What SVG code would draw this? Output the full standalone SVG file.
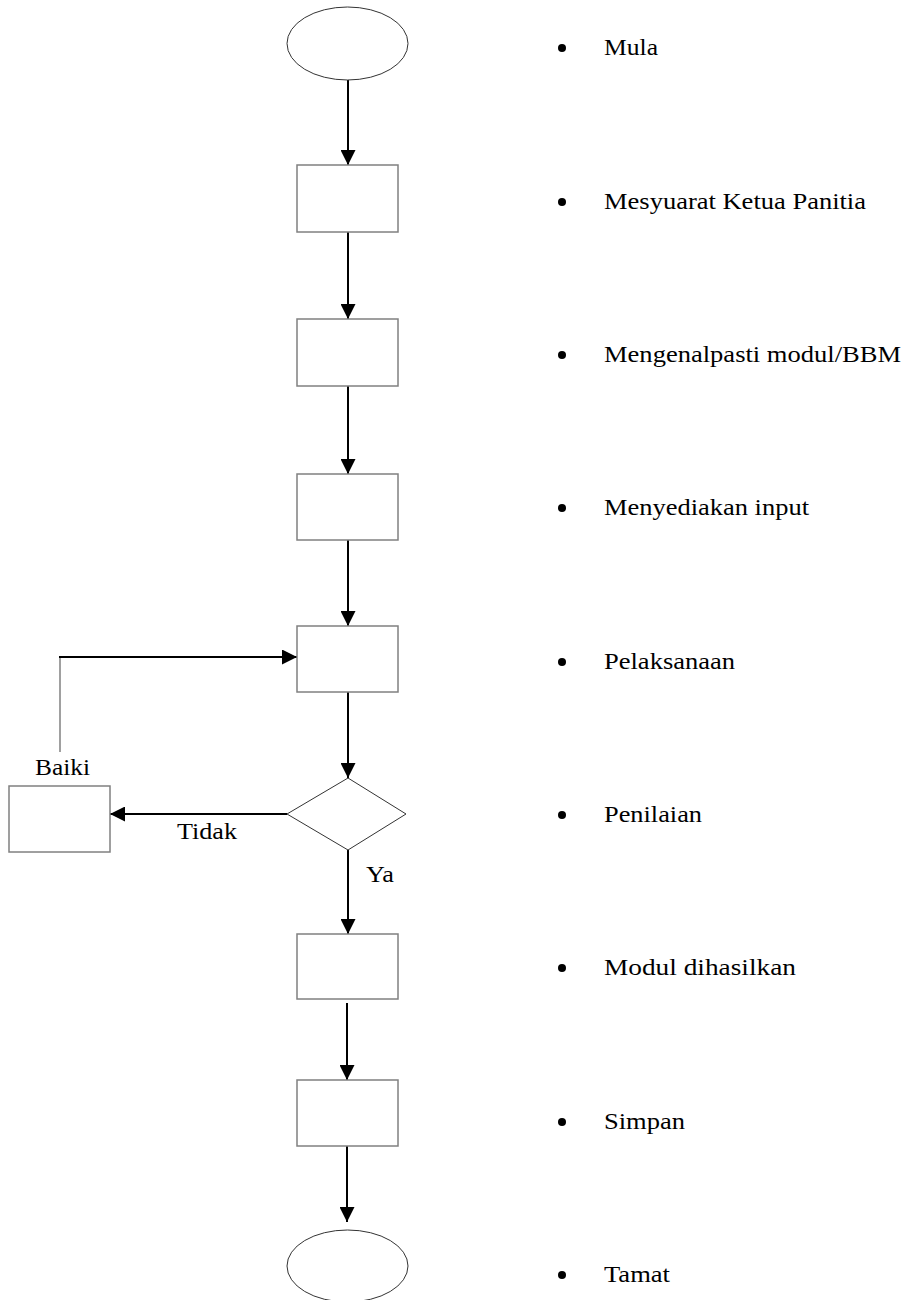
<svg xmlns="http://www.w3.org/2000/svg" width="907" height="1300" viewBox="0 0 907 1300">
  <style>
    .box { fill: #ffffff; stroke: #808080; stroke-width: 1.5; }
    .term { fill: #ffffff; stroke: #333333; stroke-width: 1; }
    .edge { fill: none; stroke: #000000; stroke-width: 2; }
    .lbl { font-family: "Liberation Serif", "Times New Roman", serif; font-size: 24px; fill: #000000; }
    .dot { fill: #000000; }
  </style>
  <defs>
    <marker id="arrow" viewBox="0 0 15 15" refX="15" refY="7.5" markerWidth="15" markerHeight="15" markerUnits="userSpaceOnUse" orient="auto">
      <path d="M0,0 L15,7.5 L0,15 Z" fill="#000000"/>
    </marker>
  </defs>
  <rect width="907" height="1300" fill="#ffffff"/>

  <!-- flow connectors -->
  <g id="connectors">
    <line class="edge" x1="348" y1="80" x2="348" y2="165" marker-end="url(#arrow)"/>
    <line class="edge" x1="348" y1="232" x2="348" y2="319" marker-end="url(#arrow)"/>
    <line class="edge" x1="348" y1="386" x2="348" y2="474" marker-end="url(#arrow)"/>
    <line class="edge" x1="348" y1="540" x2="348" y2="626" marker-end="url(#arrow)"/>
    <line class="edge" x1="348" y1="692" x2="348" y2="778" marker-end="url(#arrow)"/>
    <line class="edge" x1="348" y1="850" x2="348" y2="934" marker-end="url(#arrow)"/>
    <line class="edge" x1="347" y1="1003" x2="347" y2="1080" marker-end="url(#arrow)"/>
    <line class="edge" x1="347" y1="1146" x2="347" y2="1222" marker-end="url(#arrow)"/>
    <!-- "Tidak" branch to Baiki -->
    <line class="edge" x1="287" y1="814" x2="110" y2="814" marker-end="url(#arrow)"/>
    <!-- loop back from Baiki to Pelaksanaan -->
    <line x1="60" y1="752" x2="60" y2="657" stroke="#808080" stroke-width="1.5"/>
    <line class="edge" x1="59" y1="657" x2="297" y2="657" marker-end="url(#arrow)"/>
  </g>

  <!-- flowchart shapes -->
  <g id="mula"><ellipse class="term" cx="347.5" cy="43.5" rx="60.5" ry="36.5"/></g>
  <g id="mesyuarat"><rect class="box" x="297" y="165" width="101" height="67"/></g>
  <g id="mengenalpasti"><rect class="box" x="297" y="319" width="101" height="67"/></g>
  <g id="menyediakan"><rect class="box" x="297" y="474" width="101" height="66"/></g>
  <g id="pelaksanaan"><rect class="box" x="297" y="626" width="101" height="66"/></g>
  <g id="penilaian"><polygon class="term" points="348,778 406,814 348,850 287,814"/></g>
  <g id="baiki"><rect class="box" x="9" y="786" width="101" height="66"/></g>
  <g id="modul"><rect class="box" x="297" y="934" width="101" height="65"/></g>
  <g id="simpan"><rect class="box" x="297" y="1080" width="101" height="66"/></g>
  <g id="tamat"><ellipse class="term" cx="347.5" cy="1266" rx="60.5" ry="36"/></g>

  <!-- branch labels -->
  <g id="branch-labels">
    <text class="lbl" x="35" y="775" textLength="55" lengthAdjust="spacingAndGlyphs">Baiki</text>
    <text class="lbl" x="177" y="839" textLength="60" lengthAdjust="spacingAndGlyphs">Tidak</text>
    <text class="lbl" x="366" y="882" textLength="28" lengthAdjust="spacingAndGlyphs">Ya</text>
  </g>

  <!-- step legend -->
  <g id="legend">
    <circle class="dot" cx="562" cy="48" r="4"/>
    <text class="lbl" x="604" y="55" textLength="54" lengthAdjust="spacingAndGlyphs">Mula</text>
    <circle class="dot" cx="562" cy="202" r="4"/>
    <text class="lbl" x="604" y="209" textLength="262" lengthAdjust="spacingAndGlyphs">Mesyuarat  Ketua Panitia</text>
    <circle class="dot" cx="562" cy="355" r="4"/>
    <text class="lbl" x="604" y="362" textLength="297" lengthAdjust="spacingAndGlyphs">Mengenalpasti  modul/BBM</text>
    <circle class="dot" cx="562" cy="508" r="4"/>
    <text class="lbl" x="604" y="515" textLength="205" lengthAdjust="spacingAndGlyphs">Menyediakan  input</text>
    <circle class="dot" cx="562" cy="662" r="4"/>
    <text class="lbl" x="604" y="669" textLength="131" lengthAdjust="spacingAndGlyphs">Pelaksanaan</text>
    <circle class="dot" cx="562" cy="815" r="4"/>
    <text class="lbl" x="604" y="822" textLength="98" lengthAdjust="spacingAndGlyphs">Penilaian</text>
    <circle class="dot" cx="562" cy="968" r="4"/>
    <text class="lbl" x="604" y="975" textLength="192" lengthAdjust="spacingAndGlyphs">Modul  dihasilkan</text>
    <circle class="dot" cx="562" cy="1122" r="4"/>
    <text class="lbl" x="604" y="1129" textLength="81" lengthAdjust="spacingAndGlyphs">Simpan</text>
    <circle class="dot" cx="562" cy="1275" r="4"/>
    <text class="lbl" x="604" y="1282" textLength="66" lengthAdjust="spacingAndGlyphs">Tamat</text>
  </g>
</svg>
